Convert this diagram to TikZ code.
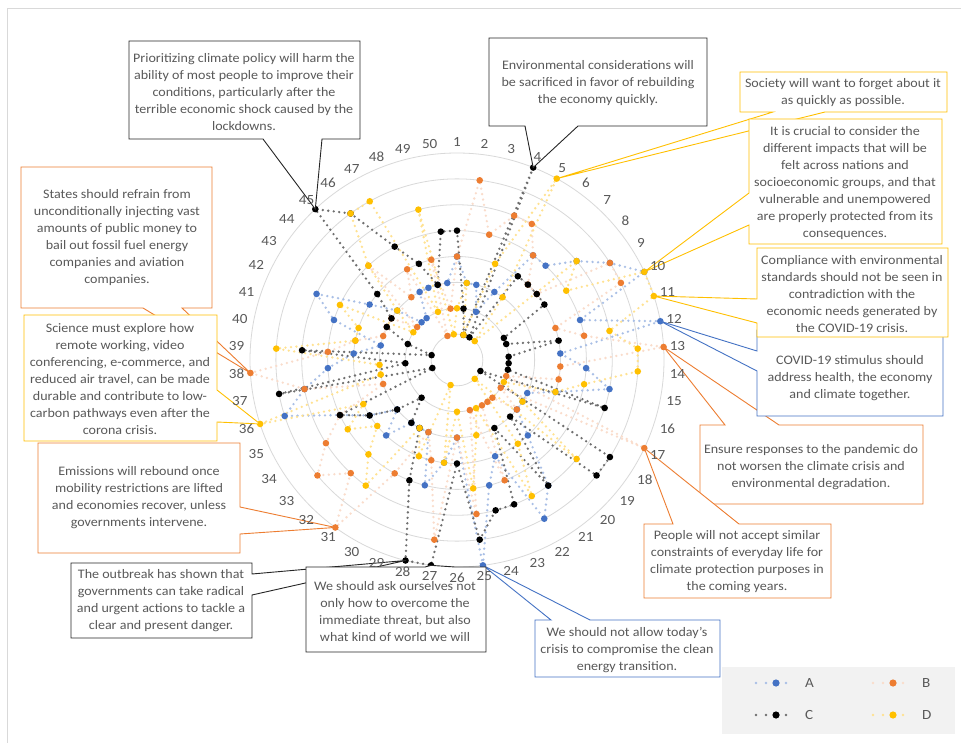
\documentclass[tikz,border=0pt]{standalone}
\usepackage{fontspec}
\setmainfont[FakeStretch=1.08]{Carlito}

\definecolor{txtgrey}{HTML}{595959}
\definecolor{ringgrey}{HTML}{D9D9D9}
\definecolor{serA}{HTML}{4472C4}
\definecolor{serB}{HTML}{ED7D31}
\definecolor{serC}{HTML}{000000}
\definecolor{serD}{HTML}{FFC000}
\definecolor{paleA}{HTML}{A9BFE6}
\definecolor{paleB}{HTML}{FADCCB}
\definecolor{paleC}{HTML}{6F6F6F}
\definecolor{paleD}{HTML}{FFE291}
\definecolor{legendbg}{HTML}{F2F2F2}

\begin{document}
\begin{tikzpicture}[x=1pt,y=-1pt,
    ring/.style={draw=ringgrey, line width=0.8pt},
    dotline/.style={line width=2.6pt, line cap=round, line join=round, dash pattern=on 0pt off 5.5pt},
    lineA/.style={dotline, draw=paleA},
    lineB/.style={dotline, draw=paleB},
    lineC/.style={dotline, draw=paleC},
    lineD/.style={dotline, draw=paleD},
    spoke/.style={text=txtgrey, font=\fontsize{14}{14}\selectfont, inner sep=1pt},
    txt/.style={align=center, text=txtgrey, font=\fontsize{13}{17}\selectfont, inner sep=0pt},
    frameA/.style={draw=serA, line width=0.9pt, fill=white, line join=miter},
    frameB/.style={draw=serB, line width=0.9pt, fill=white, line join=miter},
    frameC/.style={draw=black!85, line width=0.9pt, fill=white, line join=miter},
    frameD/.style={draw=serD, line width=0.9pt, fill=white, line join=miter},
    legtxt/.style={text=txtgrey, font=\fontsize{14}{14}\selectfont, inner sep=1pt}]

  % Fix the size of the page
  \useasboundingbox (0,0) rectangle (961,743);
  \fill[white] (0,0) rectangle (961,743);

  % Chart area frame
  \draw[ringgrey, line width=0.8pt] (7,8) rectangle (970,750);

  % Radius of one ring (outer ring = 8)
  \def\U{25.875}

  \begin{scope}[shift={(457,360)}, yscale=-1]

    % Draw the rings
    \foreach \i in {1,...,8}
      \draw[ring] (0,0) circle ({\i*\U});

    % Data points of the four series
    \foreach \v [count=\k] in {4,3,3,2,3,5,5,6,7,8,5,8,4,5,6,4,3,3,3,4,6,7,4,5,8,3,4,5,3,3,3,4,3,4,5,7,6,5,4,3,5,6,4,3,2,2,3,3,3,3}
      \coordinate (A\k) at ({90-(\k-1)*7.2}:{\v*\U});
    \foreach \v [count=\k] in {4,7,5,6,6,5,4,4,7,7,4,5,8,4,4,2,8,2,3,2,2,2,5,2,6,3,7,4,3,5,8,6,7,6,5,3,6,8,5,4,3,3,3,2,5,3,4,1,4,2}
      \coordinate (B\k) at ({90-(\k-1)*7.2}:{\v*\U});
    \foreach \v [count=\k] in {5,2,1,8,1,4,4,4,4,2,2,4,2,2,2,6,1,7,7,3,6,3,6,6,7,4,8,8,5,3,3,2,3,4,5,1,7,2,6,1,2,3,3,4,8,7,5,4,3,5}
      \coordinate (C\k) at ({90-(\k-1)*7.2}:{\v*\U});
    \foreach \v [count=\k] in {2,3,1,4,8,3,1,6,5,8,8,6,7,7,5,4,2,3,6,1,4,6,2,3,5,2,4,1,4,3,6,5,4,5,4,8,3,3,7,4,4,5,2,3,5,7,7,2,6,1}
      \coordinate (D\k) at ({90-(\k-1)*7.2}:{\v*\U});

    % Dotted lines of the series
    \draw[lineA] (A1) \foreach \k in {2,...,50} {-- (A\k)} -- cycle;
    \draw[lineB] (B1) \foreach \k in {2,...,50} {-- (B\k)} -- cycle;
    \draw[lineC] (C1) \foreach \k in {2,...,50} {-- (C\k)} -- cycle;
    \draw[lineD] (D1) \foreach \k in {2,...,50} {-- (D\k)} -- cycle;

    % Markers
    \foreach \k in {1,...,50} {
      \fill[serA] (A\k) circle (3.3pt);
      \fill[serB] (B\k) circle (3.3pt);
      \fill[serC] (C\k) circle (3.3pt);
      \fill[serD] (D\k) circle (3.3pt);
    }

  \end{scope}

  % Callouts on the left
  \draw[frameB] (21,167) -- (212,167) -- (212,308) -- (182,308) -- (B38) -- (143,308) -- (21,308) -- cycle;
  \node[txt] (tStates) at (117,238) {States should refrain from\\unconditionally injecting vast\\amounts of public money to\\bail out fossil fuel energy\\companies and aviation\\companies.};

  \draw[frameD] (24,315) -- (217,315) -- (217,390) -- (D36) -- (217,422) -- (217,441) -- (24,441) -- cycle;
  \node[txt] (tScience) at (120,379) {Science must explore how\\remote working, video\\conferencing, e-commerce, and\\reduced air travel, can be made\\durable and contribute to low-\\carbon pathways even after the\\corona crisis.};

  \draw[frameB] (38,443) -- (240,443) -- (240,507) -- (B31) -- (240,534) -- (240,553) -- (38,553) -- cycle;
  \node[txt] (tEmis) at (139,498) {Emissions will rebound once\\mobility restrictions are lifted\\and economies recover, unless\\governments intervene.};

  \draw[frameC] (71,563) -- (252,563) -- (252,574) -- (C28) -- (252,595) -- (252,638) -- (71,638) -- cycle;
  \node[txt] (tOutbreak) at (161,601) {The outbreak has shown that\\governments can take radical\\and urgent actions to tackle a\\clear and present danger.};

  % Callouts at the top
  \draw[frameC] (129,41) -- (360,41) -- (360,139) -- (322,139) -- (C45) -- (263,139) -- (129,139) -- cycle;
  \node[txt] (tPrior) at (244,92) {Prioritizing climate policy will harm the\\ability of most people to improve their\\conditions, particularly after the\\terrible economic shock caused by the\\lockdowns.};

  \draw[frameC] (489,38) -- (707,38) -- (707,126) -- (578,126) -- (C4) -- (525,126) -- (489,126) -- cycle;
  \node[txt] (tEnv) at (598,83) {Environmental considerations will\\be sacrificed in favor of rebuilding\\the economy quickly.};

  % Callouts on the right
  \draw[frameD] (740,72) -- (947,72) -- (947,112) -- (825,112) -- (D5) -- (773,112) -- (740,112) -- cycle;
  \node[txt] (tSociety) at (843,93) {Society will want to forget about it\\as quickly as possible.};

  \draw[frameD] (749,119) -- (942,119) -- (942,244) -- (749,244) -- (749,225) -- (D10) -- (749,193) -- cycle;
  \node[txt] (tCrucial) at (845,183) {It is crucial to consider the\\different impacts that will be\\felt across nations and\\socioeconomic groups, and that\\vulnerable and unempowered\\are properly protected from its\\consequences.};

  \draw[frameB] (700,425) -- (725,425) -- (B13) -- (779,425) -- (923,425) -- (923,504) -- (700,504) -- cycle;
  \node[txt] (tEnsure) at (811,467) {Ensure responses to the pandemic do\\not worsen the climate crisis and\\environmental degradation.};

  \draw[frameA] (757,330) -- (943,330) -- (943,416) -- (757,416) -- (757,371) -- (A12) -- (757,351) -- cycle;
  \node[txt] (tStimulus) at (850,378) {COVID-19 stimulus should\\address health, the economy\\and climate together.};

  \draw[frameD] (757,248) -- (948,248) -- (948,337) -- (757,337) -- (757,323) -- (D11) -- (757,299) -- cycle;
  \node[txt] (tCompl) at (852,294) {Compliance with environmental\\standards should not be seen in\\contradiction with the\\economic needs generated by\\the COVID-19 crisis.};

  \draw[frameB] (644,524) -- (673,524) -- (B17) -- (739,524) -- (831,524) -- (831,598) -- (644,598) -- cycle;
  \node[txt] (tPeople) at (737,562) {People will not accept similar\\constraints of everyday life for\\climate protection purposes in\\the coming years.};

  % Callouts at the bottom
  \draw[frameA] (535,620) -- (551,620) -- (A25) -- (590,620) -- (720,620) -- (720,677) -- (535,677) -- cycle;
  \node[txt] (tAllow) at (627,650) {We should not allow today's\\crisis to compromise the clean\\energy transition.};

  \draw[frameC] (306,567) -- (425,567) -- (C27) -- (455,567) -- (486,567) -- (486,652) -- (306,652) -- cycle;
  \node[txt] (tAsk) at (395,612) {We should ask ourselves not\\only how to overcome the\\immediate threat, but also\\what kind of world we will};

  % Spoke labels 1 to 50
  \begin{scope}[shift={(457,360)}, yscale=-1]
    \foreach \k in {1,...,50} {
      \pgfmathsetmacro\ang{90-(\k-1)*7.2}
      \pgfmathsetmacro\anc{mod(\ang+540,360)}
      \node[spoke, anchor=\anc] (s\k) at (\ang:212) {\k};
    }
  \end{scope}

  % Legend
  \fill[legendbg] (722,667) rectangle (955,734);
  \foreach \s/\x/\y in {A/756/683, B/873/683, C/756/715, D/873/715} {
    \coordinate (l\s) at (\x,\y);
    \coordinate (r\s) at (\x+40,\y);
    \draw[line\s, dash pattern=on 0pt off 10pt] (l\s) -- (r\s);
    \fill[ser\s] (\x+20,\y) circle (3.6pt);
    \node[legtxt, anchor=west] (leg\s) at (\x+48,\y) {\s};
  }

\end{tikzpicture}
\end{document}
